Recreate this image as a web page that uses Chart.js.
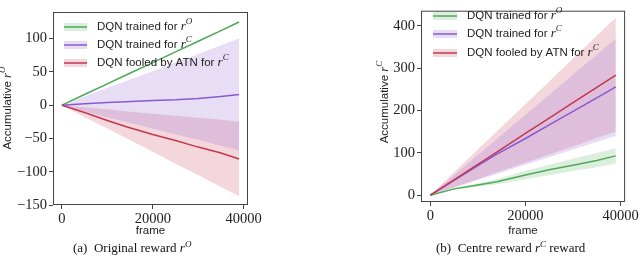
<!DOCTYPE html>
<html>
<head>
<meta charset="utf-8">
<script src="https://cdn.jsdelivr.net/npm/chart.js@4.4.1/dist/chart.umd.min.js"></script>
<style>
    body { margin: 0; background: #fff; width: 640px; height: 258px; position: relative; overflow: hidden; }
    canvas { position: absolute; top: 0; }
    #chartA { left: 0; }
    #chartB { left: 320px; }
    .caption { position: absolute; top: 240px; font: 13px "Liberation Serif", serif; color: #111; white-space: nowrap; }
    .caption i { font-style: italic; }
    .caption sup { font-size: 9px; font-style: italic; vertical-align: 5px; line-height: 0; }
</style>
</head>
<body>
<canvas id="chartA" width="320" height="240"></canvas>
<canvas id="chartB" width="320" height="240"></canvas>
<div class="caption" style="left:73px">(a)&nbsp; Original reward <i>r</i><sup>O</sup></div>
<div class="caption" style="left:436px">(b)&nbsp; Centre reward <i>r</i><sup>C</sup> reward</div>

<script>
// frames sampled along the x axis
const frames = [0, 5000, 10000, 14000, 20000, 25000, 30000, 35000, 39000];
const xTicks = [0, 20000, 40000];

// (a) original reward r^O
const origGreen   = [0, 16, 32, 45, 64, 80, 96, 112, 125];
const origGreenLo = [0, 15, 31, 44, 63, 79, 95, 111, 124];
const origGreenHi = [0, 17, 33, 46, 65, 81, 97, 113, 126];
const origPurple   = [0, 2, 4, 5, 7, 8, 10, 13, 16];
const origPurpleLo = [0, -9, -18, -25, -35, -44, -52, -61, -68];
const origPurpleHi = [0, 13, 26, 36, 51, 64, 77, 90, 100];
const origRed   = [0, -11, -23, -32, -44, -53, -63, -72, -81];
const origRedLo = [0, -18, -35, -49, -70, -88, -105, -123, -137];
const origRedHi = [0, -3, -6, -9, -13, -16, -19, -22, -25];
const origYTicks = [-150, -100, -50, 0, 50, 100];

// (b) centre reward r^C
const centGreen   = [0, 15, 24, 32, 48, 60, 71, 82, 93];
const centGreenLo = [0, 13, 20, 26, 38, 48, 57, 66, 75];
const centGreenHi = [0, 17, 28, 38, 58, 72, 86, 100, 111];
const centPurple   = [0, 35, 70, 97, 134, 166, 198, 230, 256];
const centPurpleLo = [0, 18, 36, 50, 72, 90, 108, 126, 140];
const centPurpleHi = [0, 47, 95, 133, 190, 237, 285, 332, 370];
const centRed   = [0, 36, 73, 102, 146, 182, 219, 255, 284];
const centRedLo = [0, 19, 38, 54, 77, 96, 115, 135, 150];
const centRedHi = [0, 54, 108, 151, 215, 269, 323, 377, 420];
const centYTicks = [0, 100, 200, 300, 400];

const seriesNames = ['DQN trained for ', 'DQN trained for ', 'DQN fooled by ATN for '];
const seriesSup = ['O', 'C', 'C'];

const GREEN = 'rgb(80,170,90)';
const PURPLE = 'rgb(135,90,210)';
const RED = 'rgb(195,55,80)';
const legendColors = [GREEN, PURPLE, RED];

const SANS = '"Liberation Sans", Arial, sans-serif';
const SERIF = '"Liberation Serif", serif';

function pts(values) {
    return values.map((v, i) => ({ x: frames[i], y: v }));
}

function alpha(color, a) {
    return color.replace('rgb(', 'rgba(').replace(')', ',' + a + ')');
}

function meanLine(values, color) {
    return { data: pts(values), borderColor: color, borderWidth: 1.5, pointRadius: 0, fill: false, tension: 0 };
}

/**
 * lower + upper datasets, filled between them
 */
function band(lo, hi, color) {
    return [
        { data: pts(lo), borderWidth: 0, pointRadius: 0, fill: false },
        { data: pts(hi), borderWidth: 0, pointRadius: 0, fill: '-1', backgroundColor: alpha(color, 0.2) }
    ];
}

function minusSign(v) {
    return v < 0 ? '\u2212' + Math.abs(v) : String(v);
}

/**
 * draw text pieces one after another, return total width
 */
function richWidth(ctx, parts) {
    let w = 0;
    parts.forEach(p => { ctx.font = p.font; w += ctx.measureText(p.text).width; });
    return w;
}

function drawRich(ctx, x, y, parts) {
    ctx.textBaseline = 'middle';
    ctx.textAlign = 'left';
    parts.forEach(p => {
        ctx.font = p.font;
        ctx.fillText(p.text, x, y - (p.rise || 0));
        x += ctx.measureText(p.text).width;
    });
}

function withR(text, sup) {
    return [
        { text: text, font: '11.5px ' + SANS },
        { text: 'r', font: 'italic 13px ' + SERIF },
        { text: sup, font: 'italic 9px ' + SERIF, rise: 5 }
    ];
}

const decorPlugin = {
    id: 'decor',
    afterDraw(chart, args, opts) {
        const ctx = chart.ctx;
        const a = chart.chartArea;
        ctx.save();
        // full box of spines
        ctx.strokeStyle = '#444';
        ctx.lineWidth = 1;
        ctx.strokeRect(a.left + 0.5, a.top + 0.5, a.right - a.left - 1, a.bottom - a.top - 1);

        ctx.fillStyle = '#222';
        // legend
        opts.rows.forEach((ry, i) => {
            const c = legendColors[i];
            ctx.fillStyle = alpha(c, 0.2);
            ctx.fillRect(opts.hx0, ry - 4, opts.hx1 - opts.hx0, 8);
            ctx.strokeStyle = c;
            ctx.lineWidth = 1.5;
            ctx.beginPath();
            ctx.moveTo(opts.hx0, ry);
            ctx.lineTo(opts.hx1, ry);
            ctx.stroke();
            ctx.fillStyle = '#222';
            drawRich(ctx, opts.tx, ry, withR(seriesNames[i], seriesSup[i]));
        });

        // x title
        ctx.font = '11.5px ' + SANS;
        ctx.textAlign = 'center';
        ctx.textBaseline = 'middle';
        ctx.fillText('frame', (a.left + a.right) / 2, opts.xTitleY);

        // y title, rotated
        const parts = withR('Accumulative ', opts.ySup);
        const w = richWidth(ctx, parts);
        ctx.translate(opts.yTitleX, opts.yTitleY);
        ctx.rotate(-Math.PI / 2);
        drawRich(ctx, -w / 2, 0, parts);
        ctx.restore();
    }
};

function makeChart(id, datasets, yMin, yMax, yTicks, layout, decor) {
    const tickFont = { family: SERIF, size: 14.5 };
    const grid = { display: true, drawOnChartArea: false, drawTicks: true, tickLength: 4, color: '#444', lineWidth: 1 };
    return new Chart(document.getElementById(id), {
        type: 'line',
        data: { datasets: datasets },
        options: {
            responsive: false,
            animation: false,
            events: [],
            layout: { padding: layout.padding },
            plugins: {
                legend: { display: false },
                tooltip: { enabled: false },
                filler: { drawTime: 'beforeDatasetsDraw' },
                decor: decor
            },
            scales: {
                x: {
                    type: 'linear',
                    min: -1950,
                    max: 40950,
                    grid: grid,
                    border: { display: false },
                    ticks: { font: tickFont, color: '#222', padding: 1, maxRotation: 0, callback: v => String(v) },
                    afterBuildTicks: s => { s.ticks = xTicks.map(v => ({ value: v })); },
                    afterFit: s => { s.height = layout.xHeight; }
                },
                y: {
                    type: 'linear',
                    min: yMin,
                    max: yMax,
                    grid: grid,
                    border: { display: false },
                    ticks: { font: tickFont, color: '#222', padding: 2, callback: minusSign },
                    afterBuildTicks: s => { s.ticks = yTicks.map(v => ({ value: v })); },
                    afterFit: s => { s.width = layout.yWidth; }
                }
            }
        },
        plugins: [decorPlugin]
    });
}

const datasetsA = [
    meanLine(origRed, RED),
    meanLine(origPurple, PURPLE),
    meanLine(origGreen, GREEN),
    ...band(origGreenLo, origGreenHi, GREEN),
    ...band(origPurpleLo, origPurpleHi, PURPLE),
    ...band(origRedLo, origRedHi, RED)
];

const datasetsB = [
    meanLine(centRed, RED),
    meanLine(centPurple, PURPLE),
    meanLine(centGreen, GREEN),
    ...band(centGreenLo, centGreenHi, GREEN),
    ...band(centPurpleLo, centPurpleHi, PURPLE),
    ...band(centRedLo, centRedHi, RED)
];

makeChart('chartA', datasetsA, -150, 140, origYTicks,
    { padding: { left: 0, top: 12, right: 72, bottom: 0 }, yWidth: 53, xHeight: 35 },
    { rows: [27, 45, 63], hx0: 64, hx1: 87, tx: 97, xTitleY: 231, yTitleX: 8, yTitleY: 108, ySup: 'O' });

makeChart('chartB', datasetsB, -16, 436, centYTicks,
    { padding: { left: 61, top: 2, right: 14, bottom: 0 }, yWidth: 40, xHeight: 38 },
    { rows: [16, 34, 53], hx0: 113, hx1: 137, tx: 147, xTitleY: 231, yTitleX: 65, yTitleY: 102, ySup: 'C' });
</script>
</body>
</html>
